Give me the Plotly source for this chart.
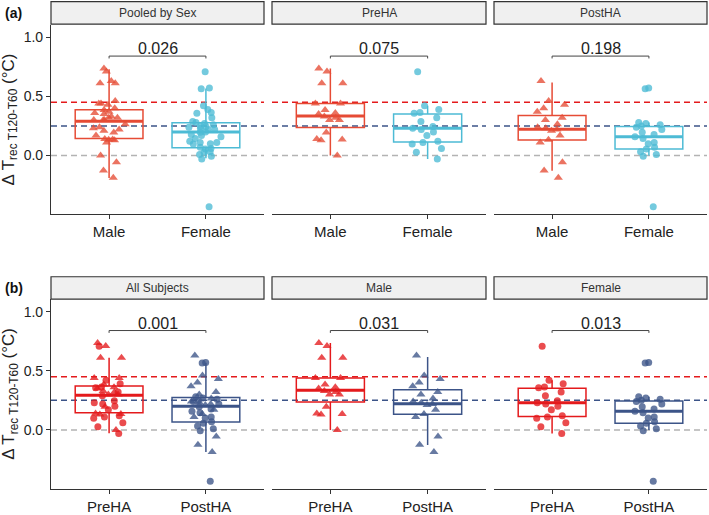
import plotly.graph_objects as go

# ---------------- data ----------------
pre_male = [0.735, 0.71, 0.61, 0.61, 0.44, 0.44, 0.385, 0.36, 0.35, 0.33, 0.32, 0.30, 0.30, 0.195, 0.14, 0.135, 0.13, 0.0]
post_male = [0.63, 0.46, 0.43, 0.40, 0.37, 0.32, 0.30, 0.265, 0.24, 0.23, 0.22, 0.21, 0.17, 0.134, 0.11, -0.056, -0.126, -0.187]
pre_female = [0.707, 0.42, 0.39, 0.363, 0.357, 0.32, 0.288, 0.246, 0.23, 0.22, 0.20, 0.17, 0.12, 0.11, 0.098, 0.06, 0.028, -0.03]
post_female = [0.57, 0.565, 0.28, 0.27, 0.26, 0.25, 0.24, 0.22, 0.196, 0.178, 0.158, 0.145, 0.11, 0.10, 0.07, 0.056, 0.033, 0.01, -0.006, -0.433]

strip_labels = ["Pooled by Sex", "PreHA", "PostHA", "All Subjects", "Male", "Female"]
tick_labels = [["Male", "Female"]] * 3 + [["PreHA", "PostHA"]] * 3
p_values = ["0.026", "0.075", "0.198", "0.001", "0.031", "0.013"]
panel_tags = ["(a)", "(b)"]

# box statistics per panel: [left box, right box]
box_q1 = [[0.144, 0.067], [0.237, 0.114], [0.132, 0.056], [0.145, 0.067], [0.237, 0.132], [0.114, 0.056]]
box_median = [[0.289, 0.200], [0.335, 0.230], [0.222, 0.158], [0.293, 0.200], [0.335, 0.222], [0.230, 0.158]]
box_q3 = [[0.386, 0.278], [0.440, 0.352], [0.339, 0.245], [0.372, 0.274], [0.440, 0.339], [0.352, 0.245]]
box_lower = [[-0.189, -0.022], [0.0, -0.03], [-0.128, 0.0], [-0.028, -0.187], [0.0, -0.128], [-0.03, 0.0]]
box_upper = [[0.728, 0.567], [0.735, 0.42], [0.617, 0.28], [0.61, 0.567], [0.735, 0.617], [0.42, 0.28]]

bracket_level = 0.84
reference_levels = [0.45, 0.25, 0.0]

# ---------------- styles ----------------
c_male = "#E64B35"
c_female = "#4DBBD5"
c_pre = "#E41A1C"
c_post = "#3C5488"
ref_colors = ["#E41A1C", "#3C5488", "#B3B3B3"]
TRI, CIR = "triangle-up", "circle"

# point groups for each panel: list per box of (values, symbol)
panel_points = [
    [[(pre_male + post_male, TRI)], [(pre_female + post_female, CIR)]],
    [[(pre_male, TRI)], [(pre_female, CIR)]],
    [[(post_male, TRI)], [(post_female, CIR)]],
    [[(pre_male, TRI), (pre_female, CIR)], [(post_male, TRI), (post_female, CIR)]],
    [[(pre_male, TRI)], [(post_male, TRI)]],
    [[(pre_female, CIR)], [(post_female, CIR)]],
]
panel_colors = [[c_male, c_female]] * 3 + [[c_pre, c_post]] * 3

W, H = 709, 515
col_dom = [(51 / W, 264 / W), (272 / W, 486 / W), (494 / W, 707 / W)]
row_dom = [(1 - 216.7 / H, 1 - 25 / H), (1 - 494.3 / H, 1 - 302.7 / H)]
strip_dom = [(1 - 24.5 / H, 1 - 1.7 / H), (1 - 302.7 / H, 1 - 280 / H)]
yrange = [-0.495, 1.105]
xrange = [-0.6, 1.6]
BOXW = 0.7
FONT = "Liberation Sans, Arial, sans-serif"

fig = go.Figure()
layout = dict(
    width=W, height=H, margin=dict(l=0, r=0, t=0, b=0),
    plot_bgcolor="white", paper_bgcolor="white", showlegend=False,
    font=dict(family=FONT, color="#222"),
    boxmode="overlay", shapes=[], annotations=[],
)

for i in range(6):
    r, c = divmod(i, 3)
    xa = "x" if i == 0 else f"x{i+1}"
    ya = "y" if i == 0 else f"y{i+1}"
    xkey = "xaxis" if i == 0 else f"xaxis{i+1}"
    ykey = "yaxis" if i == 0 else f"yaxis{i+1}"
    layout[xkey] = dict(
        domain=list(col_dom[c]), anchor=ya, range=xrange, tickmode="array",
        tickvals=[0, 1], ticktext=tick_labels[i], showline=True, linecolor="#333",
        linewidth=1.2, ticks="outside", ticklen=4, tickcolor="#333", showgrid=False,
        zeroline=False, tickfont=dict(size=15, color="#222"), fixedrange=True,
    )
    layout[ykey] = dict(
        domain=list(row_dom[r]), anchor=xa, range=yrange, tickmode="array",
        tickvals=[0, 0.5, 1.0], ticktext=["0.0", "0.5", "1.0"],
        showticklabels=(c == 0), showline=(c == 0), linecolor="#333", linewidth=1.2,
        ticks="outside" if c == 0 else "", ticklen=4, tickcolor="#333",
        showgrid=False, zeroline=False, tickfont=dict(size=14, color="#222"), fixedrange=True,
    )

    # reference dashed lines
    for lvl, col in zip(reference_levels, ref_colors):
        layout["shapes"].append(dict(
            type="line", xref=f"{xa} domain", yref=ya, x0=0, x1=1, y0=lvl, y1=lvl,
            line=dict(color=col, width=1.5, dash="6px,4px"), layer="below"))

    # strip
    layout["shapes"].append(dict(
        type="rect", xref="paper", yref="paper", x0=col_dom[c][0], x1=col_dom[c][1],
        y0=strip_dom[r][0], y1=strip_dom[r][1], fillcolor="#F0F0F0",
        line=dict(color="#333", width=1.2)))
    layout["annotations"].append(dict(
        text=strip_labels[i], xref="paper", yref="paper",
        x=(col_dom[c][0] + col_dom[c][1]) / 2, y=(strip_dom[r][0] + strip_dom[r][1]) / 2,
        showarrow=False, font=dict(size=12, color="#333"), xanchor="center", yanchor="middle"))

    for k in range(2):
        col = panel_colors[i][k]
        # box with precomputed stats
        fig.add_trace(go.Box(
            x=[k], q1=[box_q1[i][k]], median=[box_median[i][k]], q3=[box_q3[i][k]],
            lowerfence=[box_lower[i][k]], upperfence=[box_upper[i][k]],
            width=BOXW, boxpoints=False, whiskerwidth=0, fillcolor="rgba(255,255,255,0)",
            line=dict(color=col, width=1.5), xaxis=xa, yaxis=ya, hoverinfo="skip"))
        # thick median line
        fig.add_trace(go.Box(
            x=[k], q1=[box_median[i][k]], median=[box_median[i][k]], q3=[box_median[i][k]],
            lowerfence=[box_median[i][k]], upperfence=[box_median[i][k]],
            width=BOXW, boxpoints=False, whiskerwidth=0, fillcolor="rgba(255,255,255,0)",
            line=dict(color=col, width=3), xaxis=xa, yaxis=ya, hoverinfo="skip"))
        # jittered points
        for vals, sym in panel_points[i][k]:
            fig.add_trace(go.Box(
                y=vals, x0=k, width=BOXW, boxpoints="all", jitter=0.6, pointpos=0,
                fillcolor="rgba(0,0,0,0)", line=dict(color="rgba(0,0,0,0)", width=0),
                whiskerwidth=0,
                marker=dict(symbol=sym, size=8 if sym == TRI else 7, color=col, opacity=0.78,
                            line=dict(width=0)),
                xaxis=xa, yaxis=ya))

    # p-value bracket
    fig.add_trace(go.Scatter(
        x=[0, 0, 1, 1], y=[bracket_level - 0.02, bracket_level, bracket_level, bracket_level - 0.02],
        mode="lines", line=dict(color="#444", width=1), xaxis=xa, yaxis=ya, hoverinfo="skip"))
    layout["annotations"].append(dict(
        text=p_values[i], xref=xa, yref=ya, x=0.5, y=bracket_level, yanchor="bottom",
        xanchor="center", showarrow=False, yshift=-3, font=dict(size=16, color="#222")))

# y axis titles and panel tags
for r in range(2):
    layout["annotations"].append(dict(
        text="Δ T<sub>rec T120-T60</sub> (°C)", xref="paper", yref="paper",
        x=10 / W, y=(row_dom[r][0] + row_dom[r][1]) / 2, textangle=-90, showarrow=False,
        xanchor="center", yanchor="middle", font=dict(size=17, color="#222")))
    layout["annotations"].append(dict(
        text="<b>" + panel_tags[r] + "</b>", xref="paper", yref="paper",
        x=3 / W, y=strip_dom[r][1] - 0.003, xanchor="left", yanchor="top", showarrow=False,
        font=dict(size=14, color="#111")))

fig.update_layout(**layout)
fig.write_html("out.html")
